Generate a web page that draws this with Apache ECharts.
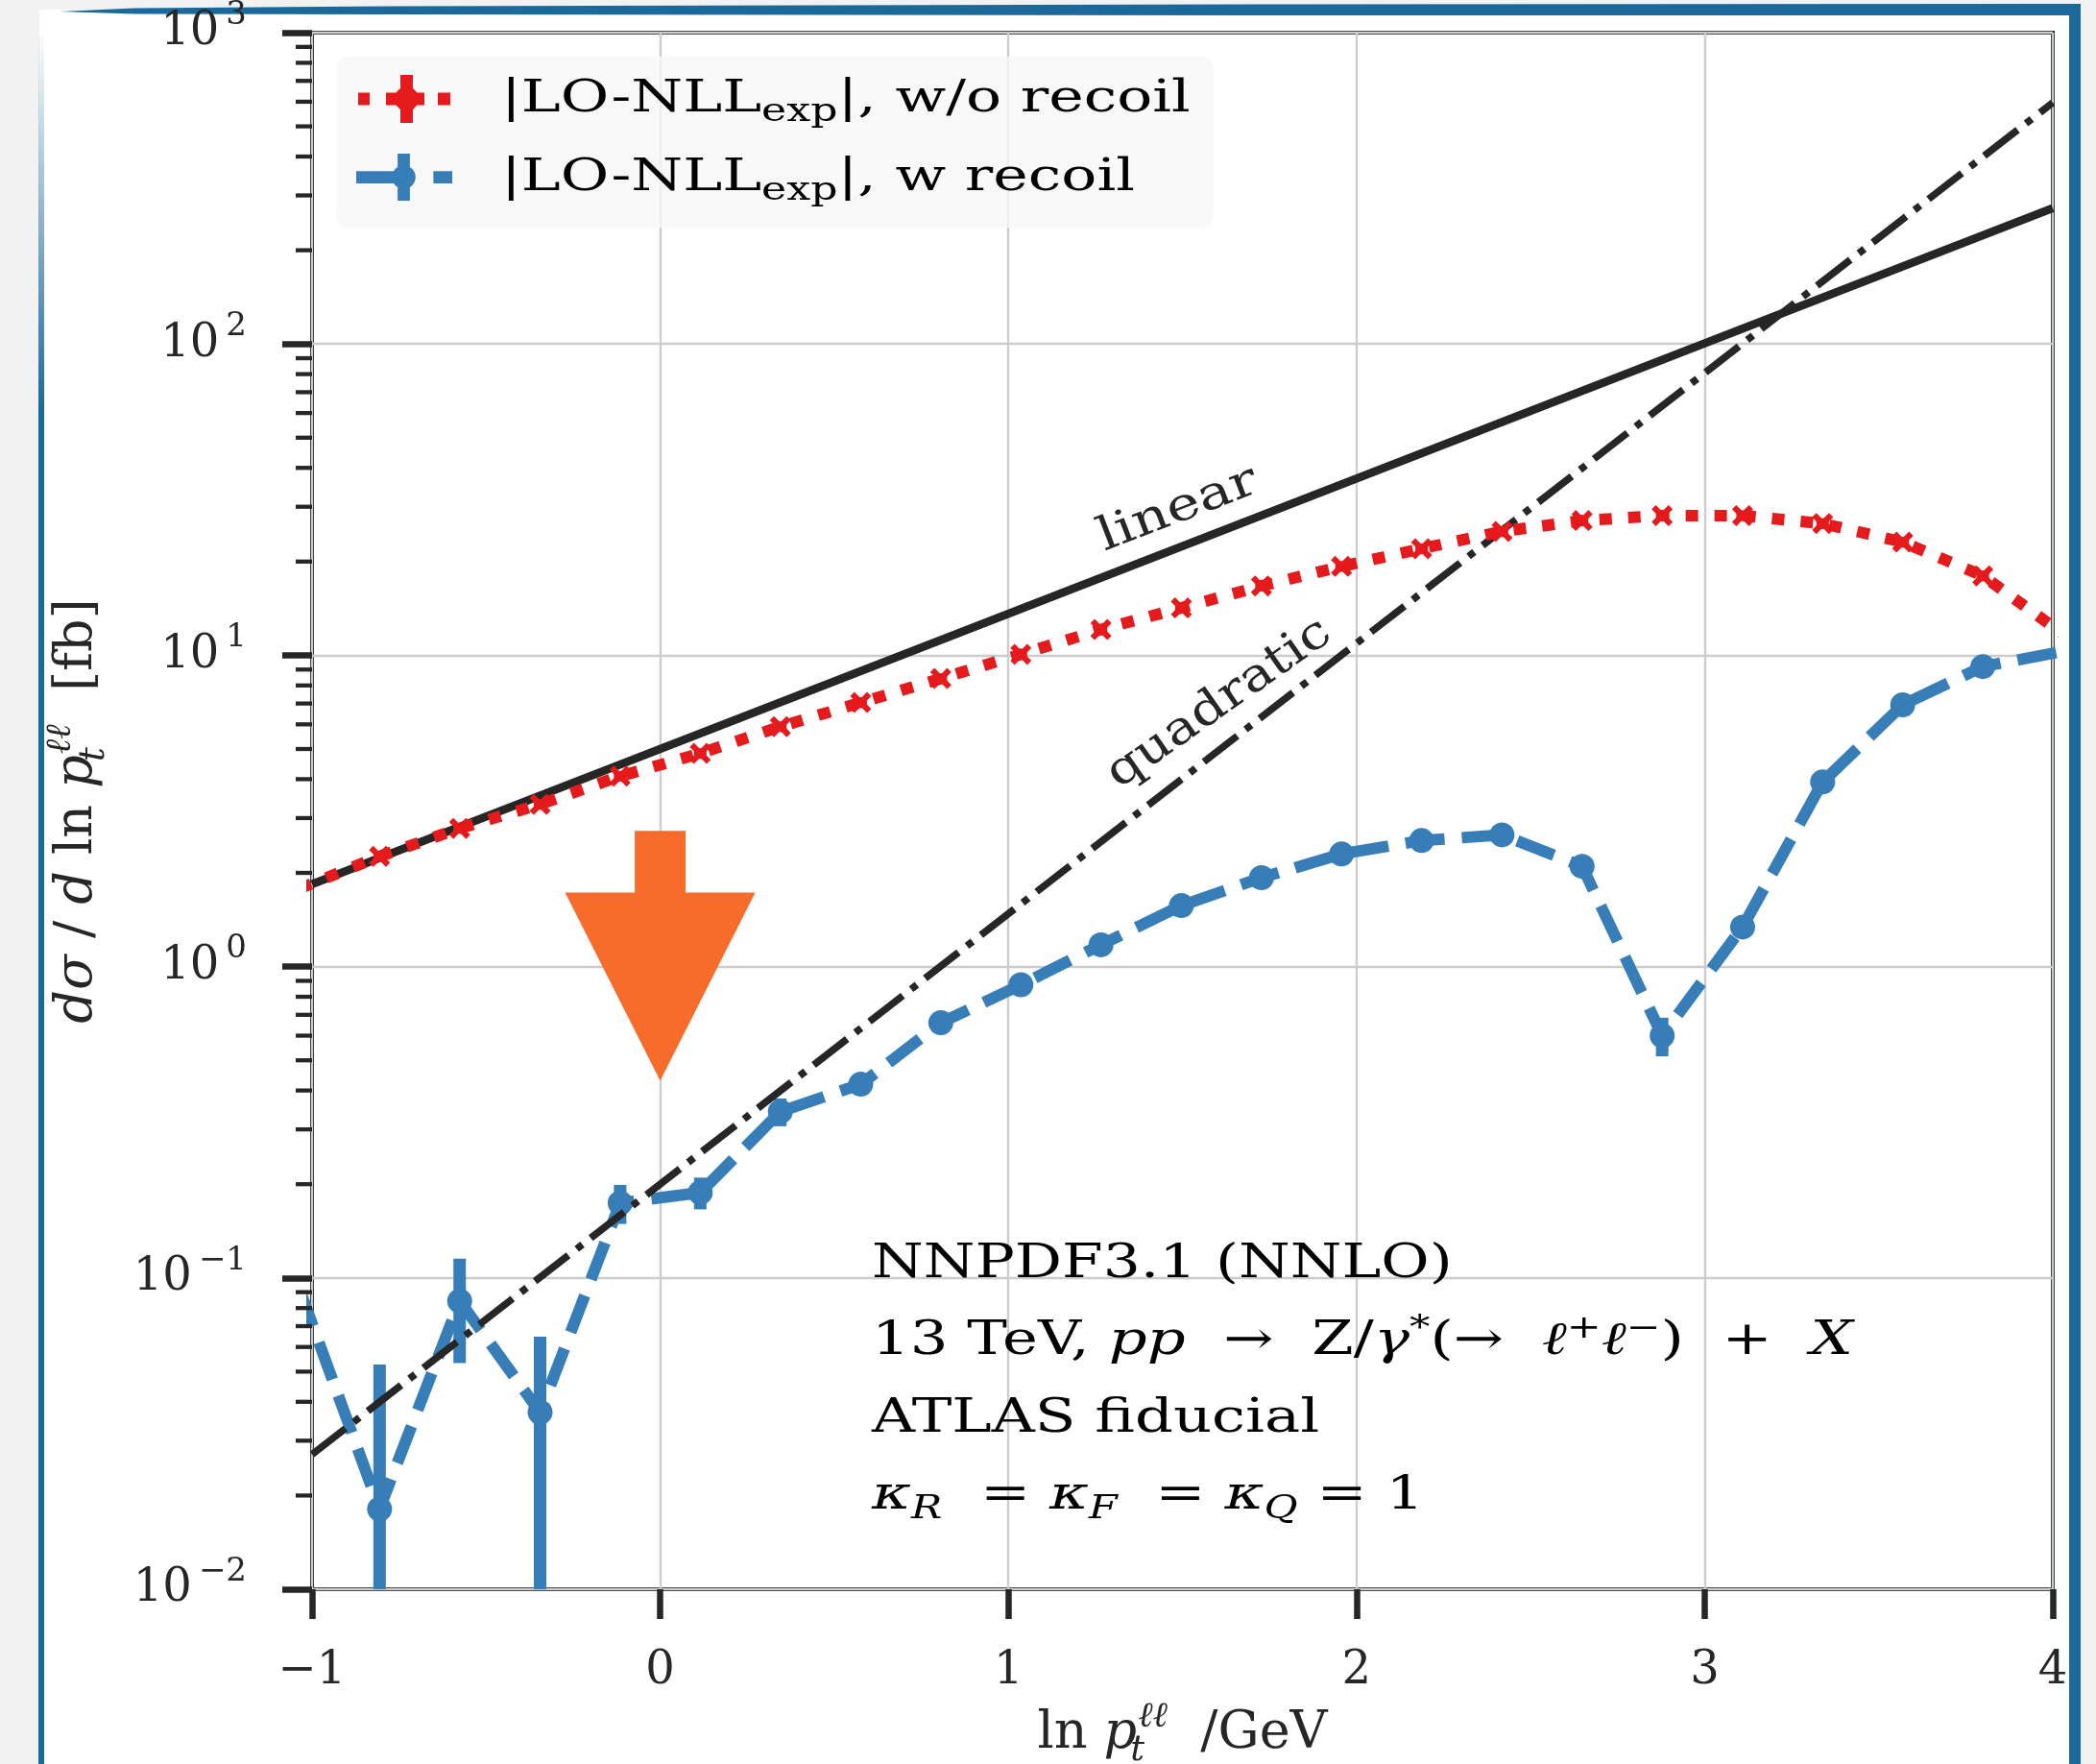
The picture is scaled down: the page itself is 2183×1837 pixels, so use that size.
<!DOCTYPE html>
<html>
<head>
<meta charset="utf-8">
<title>|LO-NLL_exp| with and without recoil</title>
<script src="https://cdn.jsdelivr.net/npm/echarts@6.0.0/dist/echarts.min.js"></script>
<style>
  html, body { margin: 0; padding: 0; background: #f2f2f2; }
  #chart { width: 2183px; height: 1837px; }
</style>
</head>
<body>
<div id="chart"></div>
<script>
// ---- data -------------------------------------------------------------
// bin centres in ln(p_t / GeV)
const lnPt = [-1.036, -0.806, -0.576, -0.345, -0.115, 0.115, 0.345, 0.576, 0.806, 1.036,
              1.266, 1.497, 1.727, 1.957, 2.187, 2.418, 2.648, 2.878, 3.109, 3.339,
              3.569, 3.799, 4.030];
// |LO - NLL_exp| without recoil [fb]
const noRecoil = [1.78, 2.26, 2.78, 3.32, 4.09, 4.84, 5.9, 7.05, 8.42, 10.07,
                  12.1, 14.2, 16.7, 19.3, 22.0, 25.0, 27.1, 28.1, 28.1, 26.5,
                  23.1, 18.0, 11.7];
const noRecoilErr = [0.07, 0.09, 0.11, 0.13, 0.16, 0.19, 0.23, 0.28, 0.33, 0.4,
                     0.48, 0.56, 0.66, 0.77, 0.88, 1.0, 1.08, 1.12, 1.12, 1.06,
                     0.92, 0.72, 0.47];
// |LO - NLL_exp| with recoil [fb]
const withRecoil = [0.092, 0.0181, 0.0843, 0.037, 0.174, 0.188, 0.342, 0.419, 0.66, 0.874,
                    1.175, 1.57, 1.93, 2.30, 2.54, 2.65, 2.10, 0.60, 1.34, 3.92,
                    6.93, 9.2, 10.3];
const withRecoilErr = [0.03, 0.0346, 0.031, 0.0277, 0.025, 0.022, 0.035, 0.02, 0.02, 0.02,
                       0.025, 0.03, 0.035, 0.04, 0.045, 0.05, 0.06, 0.085, 0.06, 0.07,
                       0.09, 0.11, 0.12];
// reference scalings (straight lines on the log plot): end points
const linearEnds = [[-1, 1.84], [4, 273]];
const quadraticEnds = [[-1, 0.0271], [4, 596]];
// arrow at ln p_t = 0 : [x, tip, neck, top]
const arrowMark = [[0, 0.43, 1.73, 2.73]];
// axes
const xRange = [-1, 4];
const yRange = [0.01, 1000];
const yDecades = [0.01, 0.1, 1, 10, 100, 1000];

// ---- style ------------------------------------------------------------
const INK = '#262626';
const RED = '#e41a1c';
const BLUE = '#377eb8';
const ORANGE = '#f76b2b';
const FRAME = '#1b699b';
const SERIF = '"DejaVu Serif", serif';
const WIDE = 1.3;   // horizontal stretch of the free text

const nameNo = '|LO-NLLexp|, w/o recoil';
const nameW = '|LO-NLLexp|, w recoil';

// minor ticks 2..9 within every decade
const yMinorTicks = [];
for (let d = 0; d < yDecades.length - 1; d++) {
  for (let k = 2; k <= 9; k++) yMinorTicks.push(k * yDecades[d]);
}

const titleRich = {
  n:   { fontFamily: SERIF, fontSize: 54, lineHeight: 72, color: INK },
  i:   { fontFamily: SERIF, fontStyle: 'italic', fontSize: 54, lineHeight: 72, color: INK },
  sup: { fontFamily: SERIF, fontStyle: 'italic', fontSize: 37, lineHeight: 37, verticalAlign: 'top', color: INK },
  stk: { fontFamily: SERIF, fontStyle: 'italic', fontSize: 37, lineHeight: 28, verticalAlign: 'bottom', color: INK, width: 1, align: 'left' }
};

const noteRich = {
  n:   { fontFamily: SERIF, fontSize: 48, lineHeight: 60, color: INK },
  i:   { fontFamily: SERIF, fontStyle: 'italic', fontSize: 48, lineHeight: 60, color: INK },
  sup: { fontFamily: SERIF, fontSize: 33, lineHeight: 33, verticalAlign: 'top', color: INK },
  sub: { fontFamily: SERIF, fontStyle: 'italic', fontSize: 33, lineHeight: 25, verticalAlign: 'bottom', color: INK }
};

const legendRich = {
  t: { fontFamily: SERIF, fontSize: 46, lineHeight: 60, color: INK },
  s: { fontFamily: SERIF, fontSize: 33, lineHeight: 31, verticalAlign: 'bottom', color: INK }
};

// legend glyphs: dotted line + error bar + cross / dashed line + error bar + dot
const ICON_NO = 'path://M0,18.5H12V31.5H0Z M29,18.5H44V31.5H29Z M57,18.5H69V31.5H57Z M83,18.5H96V31.5H83Z M44,0H57V50H44Z ' +
  'M39.5,18.4L43.9,14L50.5,20.6L57.1,14L61.5,18.4L54.9,25L61.5,31.6L57.1,36L50.5,29.4L43.9,36L39.5,31.6L46.1,25Z';
const ICON_W = 'path://M0,18.5H44V31.5H0Z M82,18.5H102V31.5H82Z M44,0H57V50H44Z ' +
  'M38,25A12.5,12.5 0 1,1 63,25A12.5,12.5 0 1,1 38,25Z';
const X_MARK = 'path://M0,4L4,0L10,6L16,0L20,4L14,10L20,16L16,20L10,14L4,20L0,16L6,10Z';

function errorBars(name, ys, errs, color, z) {
  return {
    type: 'custom', name: name, z: z, clip: true, silent: true,
    data: lnPt.map((x, i) => [x, ys[i], errs[i]]),
    encode: { x: 0, y: 1 },
    renderItem: (params, api) => {
      const x = api.value(0), y = api.value(1), e = api.value(2);
      const top = api.coord([x, Math.min(y + e, yRange[1])]);
      const bot = api.coord([x, Math.max(y - e, yRange[0])]);
      return { type: 'line', shape: { x1: top[0], y1: top[1], x2: bot[0], y2: bot[1] },
               style: { stroke: color, lineWidth: 13 } };
    }
  };
}

function note(x, y, text, rich, sx) {
  return { type: 'text', z: 6, silent: true, x: x, y: y, scaleX: sx || WIDE,
           style: { text: text, rich: rich, verticalAlign: 'top', align: 'left' } };
}

const option = {
  animation: false,
  backgroundColor: 'transparent',
  textStyle: { fontFamily: SERIF, color: INK },
  grid: { left: 325, right: 45, top: 34, bottom: 182, show: true, containLabel: false,
          outerBoundsMode: 'none',
          borderColor: INK, borderWidth: 4, backgroundColor: 'transparent' },
  xAxis: {
    type: 'value', min: xRange[0], max: xRange[1], interval: 1,
    axisLine: { show: false, onZero: false },
    axisTick: { show: true, length: 31, lineStyle: { color: INK, width: 6.5 } },
    axisLabel: { margin: 62, fontFamily: SERIF, fontSize: 48, color: INK,
                 formatter: v => (v < 0 ? '\u2212' + (-v) : String(v)) },
    splitLine: { show: true, lineStyle: { color: '#cccccc', width: 2.3 } },
    name: '{n|ln }{i|p}{stk|t}{sup|\u2113\u2113}{n|  /GeV}',
    nameLocation: 'middle', nameGap: 110,
    nameTextStyle: { rich: titleRich }
  },
  yAxis: {
    type: 'log', logBase: 10, min: yRange[0], max: yRange[1], splitNumber: 5,
    axisLine: { show: false, onZero: false },
    axisTick: { show: true, length: 31, lineStyle: { color: INK, width: 6.5 } },
    axisLabel: {
      margin: 68,
      formatter: v => {
        const e = Math.round(Math.log10(v));
        return '{b|10}{s|' + (e < 0 ? '\u2212' + (-e) : e) + '}';
      },
      rich: {
        b: { fontFamily: SERIF, fontSize: 48, lineHeight: 70, color: INK },
        s: { fontFamily: SERIF, fontSize: 34, lineHeight: 34, verticalAlign: 'top', color: INK, padding: [0, 0, 0, 7] }
      }
    },
    splitLine: { show: true, lineStyle: { color: '#cccccc', width: 2.3 } },
    name: '{i|d\u03c3}{n| / }{i|d}{n| ln }{i|p}{stk|t}{sup|\u2113\u2113}{n|  [fb]}',
    nameLocation: 'middle', nameRotate: 90, nameGap: 208,
    nameTextStyle: { rich: titleRich }
  },
  legend: {
    orient: 'vertical', left: 371, top: 78, padding: 0,
    itemWidth: 100, itemHeight: 50, itemGap: 32, selectedMode: false,
    itemStyle: { borderWidth: 0 },
    data: [{ name: nameNo, icon: ICON_NO }, { name: nameW, icon: ICON_W }],
    formatter: () => '',
    textStyle: { fontSize: 1, lineHeight: 50 }
  },
  series: [
    errorBars('with recoil errors', withRecoil, withRecoilErr, BLUE, 2),
    {
      type: 'line', name: nameW, z: 2,
      data: lnPt.map((x, i) => [x, withRecoil[i]]),
      symbol: 'circle', symbolSize: 26, showAllSymbol: true,
      itemStyle: { color: BLUE, borderWidth: 0 },
      lineStyle: { color: BLUE, width: 12, type: [41, 18] }
    },
    {
      type: 'line', name: 'linear', z: 3, symbol: 'none', data: linearEnds,
      lineStyle: { color: INK, width: 8.5, type: 'solid' }
    },
    {
      type: 'line', name: 'quadratic', z: 3, symbol: 'none', data: quadraticEnds,
      lineStyle: { color: INK, width: 7.5, type: [44, 11, 7.5, 11] }
    },
    errorBars('without recoil errors', noRecoil, noRecoilErr, RED, 4),
    {
      type: 'line', name: nameNo, z: 4,
      data: lnPt.map((x, i) => [x, noRecoil[i]]),
      symbol: X_MARK, symbolSize: 22, showAllSymbol: true,
      itemStyle: { color: RED, borderWidth: 0 },
      lineStyle: { color: RED, width: 12, type: [13, 17] }
    },
    {
      type: 'custom', name: 'arrow', z: 5, silent: true,
      data: arrowMark, encode: { x: 0, y: 1 },
      renderItem: (params, api) => {
        const x = api.value(0);
        const tip = api.coord([x, api.value(1)]);
        const neck = api.coord([x, api.value(2)]);
        const top = api.coord([x, api.value(3)]);
        const sw = 26.5, hw = 99, cx = tip[0];
        return { type: 'polygon',
          shape: { points: [[cx - sw, top[1]], [cx + sw, top[1]], [cx + sw, neck[1]], [cx + hw, neck[1]],
                            [cx, tip[1]], [cx - hw, neck[1]], [cx - sw, neck[1]]] },
          style: { fill: ORANGE } };
      }
    },
    {
      type: 'custom', name: 'minor ticks', z: 5, silent: true, clip: false,
      data: yMinorTicks.map(v => [xRange[0], v]), encode: { x: 0, y: 1 },
      renderItem: (params, api) => {
        const c = api.coord([api.value(0), api.value(1)]);
        return { type: 'line', shape: { x1: c[0] - 17, y1: c[1], x2: c[0], y2: c[1] },
                 style: { stroke: INK, lineWidth: 4.3 } };
      }
    }
  ],
  graphic: [
    // white sheet with blue frame
    { type: 'rect', z: -10, silent: true, shape: { x: 41, y: 10, width: 2119, height: 1827 }, style: { fill: '#ffffff' } },
    { type: 'polygon', z: -9, silent: true,
      shape: { points: [[62, 12], [140, 8.5], [400, 6.5], [1300, 4.5], [2167, 4], [2167, 16], [1300, 16], [400, 15], [140, 14.5]] },
      style: { fill: FRAME } },
    { type: 'rect', z: -9, silent: true, shape: { x: 2155, y: 4, width: 12, height: 1833 }, style: { fill: FRAME } },
    { type: 'rect', z: -9, silent: true, shape: { x: 40, y: 30, width: 6, height: 1807 },
      style: { fill: { type: 'linear', x: 0, y: 0, x2: 0, y2: 1, colorStops: [
        { offset: 0, color: 'rgba(27,105,155,0)' }, { offset: 0.22, color: 'rgba(27,105,155,1)' }, { offset: 1, color: 'rgba(27,105,155,1)' }] } } },
    // legend frame and entries
    { type: 'rect', z: 1, silent: true, shape: { x: 350, y: 59, width: 914, height: 178, r: 12 },
      style: { fill: 'rgba(246,246,246,0.8)' } },
    note(522, 74, '{t||LO-NLL}{s|exp}{t||, w/o recoil}', legendRich, 1.34),
    note(522, 156, '{t||LO-NLL}{s|exp}{t||, w recoil}', legendRich, 1.34),
    // curve labels
    { type: 'text', z: 6, silent: true, x: 1227, y: 531, rotation: 21 * Math.PI / 180, scaleX: 1.23,
      style: { text: 'linear', fontFamily: SERIF, fontSize: 48, fill: INK, align: 'center', verticalAlign: 'middle' } },
    { type: 'text', z: 6, silent: true, x: 1270, y: 733, rotation: 35 * Math.PI / 180, scaleX: 1.17,
      style: { text: 'quadratic', fontFamily: SERIF, fontSize: 48, fill: INK, align: 'center', verticalAlign: 'middle' } },
    // setup notes
    note(908, 1288, '{n|NNPDF3.1 (NNLO)}', noteRich, 1.28),
    note(908, 1368, '{n|13 TeV, }{i|pp}{n|  \u2192  Z/}{i|\u03b3}{sup|*}{n|(\u2192  }{i|\u2113}{sup|+}{i|\u2113}{sup|\u2212}{n|)  +  }{i|X}', noteRich),
    note(908, 1449, '{n|ATLAS fiducial}', noteRich),
    note(908, 1529, '{i|\u03ba}{sub|R}{n|  = }{i|\u03ba}{sub|F}{n|  = }{i|\u03ba}{sub|Q}{n| = 1}', noteRich)
  ]
};

const chart = echarts.init(document.getElementById('chart'), null, { renderer: 'canvas', width: 2183, height: 1837 });
chart.setOption(option);
</script>
</body>
</html>
